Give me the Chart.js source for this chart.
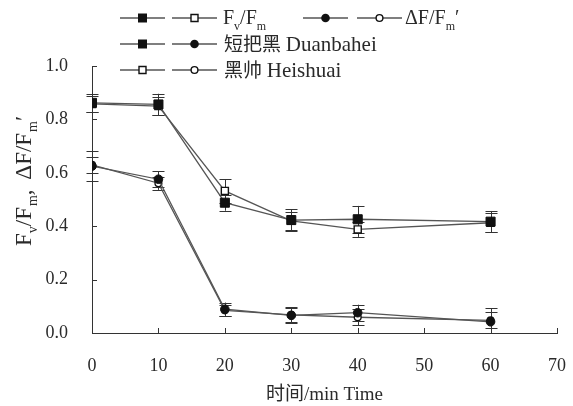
<!DOCTYPE html>
<html><head><meta charset="utf-8">
<script src="https://cdn.jsdelivr.net/npm/chart.js@4/dist/chart.umd.min.js"></script>
<style>html,body{margin:0;padding:0;background:#fff}#wrap{width:573px;height:406px;position:relative}</style>
</head><body><div id="wrap"><canvas id="c" width="573" height="406"></canvas></div>
<script>
// Sampling times (min)
const times = [0, 10, 20, 30, 40, 60];
// Fv/Fm
const fvfmDuanbahei = [0.862, 0.856, 0.488, 0.423, 0.426, 0.417];
const fvfmHeishuai  = [0.858, 0.850, 0.532, 0.420, 0.388, 0.413];
const fvfmDuanbaheiErr = [0.035, 0.040, 0.030, 0.040, 0.050, 0.040];
const fvfmHeishuaiErr  = [0.030, 0.035, 0.044, 0.035, 0.028, 0.035];
// ΔF/Fm'
const dfDuanbahei = [0.625, 0.576, 0.089, 0.066, 0.076, 0.042];
const dfHeishuai  = [0.630, 0.561, 0.085, 0.068, 0.059, 0.047];
const dfDuanbaheiErr = [0.055, 0.030, 0.025, 0.030, 0.030, 0.050];
const dfHeishuaiErr  = [0.030, 0.025, 0.020, 0.025, 0.030, 0.030];
// Axis ticks
const xTicks = [0, 10, 20, 30, 40, 50, 60, 70];
const yTicks = [0.0, 0.2, 0.4, 0.6, 0.8, 1.0];

const SERIF = '"Liberation Serif", "Noto Sans CJK SC", serif';
const INK = '#2a2a2a';
const LINE = '#555';

const pts = (ys) => times.map((t, i) => ({ x: t, y: ys[i] }));

function series(label, ys, errs, style, filled, radius) {
  return {
    label, data: pts(ys), errors: errs,
    borderColor: LINE, borderWidth: 1.3,
    pointStyle: style, pointRadius: radius, pointHoverRadius: radius,
    pointBackgroundColor: filled ? '#111' : '#fff',
    pointBorderColor: '#111', pointBorderWidth: filled ? 1 : 1.4,
    tension: 0, fill: false
  };
}

// Text made of runs; runs may be subscripted or use their own size
function runSize(r, size) { return r.sub ? Math.round(size * 0.62) : (r.size || size); }
function richWidth(ctx, runs, size) {
  let w = 0;
  for (const r of runs) {
    ctx.font = runSize(r, size) + 'px ' + SERIF;
    w += ctx.measureText(r.t).width + (r.gap || 0);
  }
  return w;
}
function drawRich(ctx, x, y, runs, size) {
  ctx.textBaseline = 'alphabetic';
  ctx.textAlign = 'left';
  for (const r of runs) {
    ctx.font = runSize(r, size) + 'px ' + SERIF;
    ctx.fillText(r.t, x, y + (r.sub ? size * 0.28 : 0));
    x += ctx.measureText(r.t).width + (r.gap || 0);
  }
}

function marker(ctx, x, y, kind) {
  ctx.save();
  ctx.strokeStyle = '#111';
  ctx.fillStyle = '#111';
  ctx.beginPath();
  if (kind === 'fs') { ctx.rect(x - 4.5, y - 4.5, 9, 9); ctx.fill(); }
  else if (kind === 'os') { ctx.fillStyle = '#fff'; ctx.lineWidth = 1.4; ctx.rect(x - 3.5, y - 3.5, 7, 7); ctx.fill(); ctx.stroke(); }
  else if (kind === 'fc') { ctx.arc(x, y, 4.3, 0, Math.PI * 2); ctx.fill(); }
  else { ctx.fillStyle = '#fff'; ctx.lineWidth = 1.4; ctx.arc(x, y, 3.4, 0, Math.PI * 2); ctx.fill(); ctx.stroke(); }
  ctx.restore();
}
function legendSample(ctx, x0, x1, y, kind) {
  ctx.save();
  ctx.strokeStyle = LINE; ctx.lineWidth = 1.3;
  ctx.beginPath(); ctx.moveTo(x0, y); ctx.lineTo(x1, y); ctx.stroke();
  ctx.restore();
  marker(ctx, (x0 + x1) / 2, y, kind);
}

const decor = {
  id: 'decor',
  beforeDatasetsDraw(chart) {
    const { ctx } = chart;
    const xs = chart.scales.x, ys = chart.scales.y;
    ctx.save();
    ctx.strokeStyle = '#333';
    ctx.lineWidth = 1;
    chart.data.datasets.forEach((ds) => {
      ds.data.forEach((p, i) => {
        const e = ds.errors[i];
        const px = Math.round(xs.getPixelForValue(p.x)) + 0.5;
        const top = ys.getPixelForValue(p.y + e);
        const bot = ys.getPixelForValue(Math.max(0, p.y - e));
        ctx.beginPath();
        ctx.moveTo(px, top); ctx.lineTo(px, bot);
        ctx.moveTo(px - 6, Math.round(top) + 0.5); ctx.lineTo(px + 6, Math.round(top) + 0.5);
        ctx.moveTo(px - 6, Math.round(bot) + 0.5); ctx.lineTo(px + 6, Math.round(bot) + 0.5);
        ctx.stroke();
      });
    });
    ctx.restore();
  },
  afterDraw(chart) {
    const { ctx, chartArea: a } = chart;
    const xs = chart.scales.x, ys = chart.scales.y;
    ctx.save();
    // inward tick marks
    ctx.strokeStyle = '#333'; ctx.lineWidth = 1;
    ctx.beginPath();
    yTicks.forEach(v => {
      if (v === 0) return;
      const y = Math.round(ys.getPixelForValue(v)) + 0.5;
      ctx.moveTo(a.left, y); ctx.lineTo(a.left + 5, y);
    });
    xTicks.forEach(v => {
      if (v === 0) return;
      const x = Math.round(xs.getPixelForValue(v)) + 0.5;
      ctx.moveTo(x, a.bottom); ctx.lineTo(x, a.bottom - 5);
    });
    ctx.stroke();

    ctx.fillStyle = INK;
    // x axis title
    ctx.font = '19px ' + SERIF;
    ctx.textAlign = 'center'; ctx.textBaseline = 'middle';
    ctx.fillText('时间/min Time', (a.left + a.right) / 2, 395);

    // y axis title (rotated, with subscripts)
    const yRuns = [{ t: 'F' }, { t: 'v', sub: true }, { t: '/F', gap: 1 }, { t: 'm', sub: true }, { t: ', ', gap: 4 },
                   { t: 'ΔF/F', gap: 1 }, { t: 'm', sub: true }, { t: '′' }];
    const ySize = 23;
    const yw = richWidth(ctx, yRuns, ySize);
    ctx.translate(31, 181);
    ctx.rotate(-Math.PI / 2);
    drawRich(ctx, -yw / 2, 0, yRuns, ySize);
    ctx.setTransform(1, 0, 0, 1, 0, 0);

    // legend
    const L = 19;
    const rows = [18, 44, 70];
    legendSample(ctx, 120, 165, rows[0], 'fs');
    legendSample(ctx, 172, 217, rows[0], 'os');
    ctx.fillStyle = INK;
    drawRich(ctx, 223, rows[0] + 6, [{ t: 'F' }, { t: 'v', sub: true }, { t: '/F' }, { t: 'm', sub: true }], 20);
    legendSample(ctx, 303, 348, rows[0], 'fc');
    legendSample(ctx, 357, 402, rows[0], 'oc');
    ctx.fillStyle = INK;
    drawRich(ctx, 405, rows[0] + 6, [{ t: 'ΔF/F' }, { t: 'm', sub: true }, { t: '′' }], 20);

    legendSample(ctx, 120, 165, rows[1], 'fs');
    legendSample(ctx, 172, 217, rows[1], 'fc');
    ctx.fillStyle = INK;
    drawRich(ctx, 224, rows[1] + 7, [{ t: '短把黑 ' }, { t: 'Duanbahei', size: 21 }], L);

    legendSample(ctx, 120, 165, rows[2], 'os');
    legendSample(ctx, 172, 217, rows[2], 'oc');
    ctx.fillStyle = INK;
    drawRich(ctx, 224, rows[2] + 7, [{ t: '黑帅 ' }, { t: 'Heishuai', size: 21 }], L);
    ctx.restore();
  }
};

new Chart(document.getElementById('c'), {
  type: 'line',
  data: {
    datasets: [
      series('短把黑 Fv/Fm', fvfmDuanbahei, fvfmDuanbaheiErr, 'rect', true, 6.4),
      series('短把黑 ΔF/Fm′', dfDuanbahei, dfDuanbaheiErr, 'circle', true, 4.3),
      series('黑帅 Fv/Fm', fvfmHeishuai, fvfmHeishuaiErr, 'rect', false, 5),
      series('黑帅 ΔF/Fm′', dfHeishuai, dfHeishuaiErr, 'circle', false, 3.4)
    ]
  },
  options: {
    responsive: false,
    animation: false,
    devicePixelRatio: 1,
    layout: { padding: { top: 66, right: 16, left: 0, bottom: 0 } },
    plugins: { legend: { display: false }, tooltip: { enabled: false } },
    scales: {
      x: {
        type: 'linear', min: 0, max: 70,
        afterBuildTicks: (s) => { s.ticks = xTicks.map(v => ({ value: v })); },
        afterFit: (s) => { s.height = 73; s.paddingLeft = 0; s.paddingRight = 0; },
        grid: { display: false, drawTicks: false },
        border: { display: true, color: '#333', width: 1 },
        ticks: { color: INK, font: { family: SERIF, size: 18 }, padding: 22, maxRotation: 0 }
      },
      y: {
        min: 0, max: 1,
        afterBuildTicks: (s) => { s.ticks = yTicks.map(v => ({ value: v })); },
        afterFit: (s) => { s.width = 92; s.paddingTop = 0; s.paddingBottom = 0; },
        grid: { display: false, drawTicks: false },
        border: { display: true, color: '#333', width: 1 },
        ticks: { color: INK, font: { family: SERIF, size: 18 }, padding: 24, callback: v => Number(v).toFixed(1) }
      }
    }
  },
  plugins: [decor]
});
</script>
</body></html>
